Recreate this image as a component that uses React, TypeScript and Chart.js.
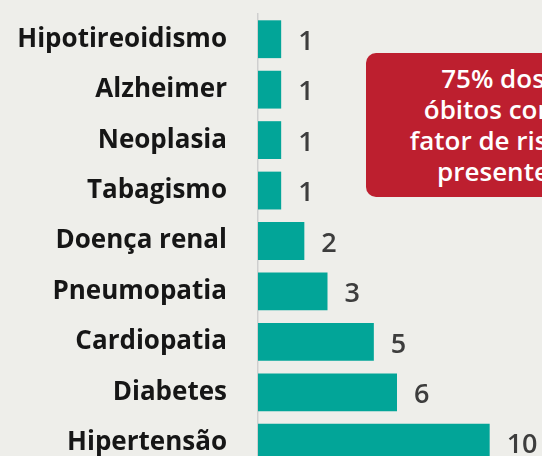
import React, { useEffect, useRef } from "react";
import { Chart, registerables } from "chart.js";

Chart.register(...registerables);

const categories = [
  "Hipotireoidismo",
  "Alzheimer",
  "Neoplasia",
  "Tabagismo",
  "Doença renal",
  "Pneumopatia",
  "Cardiopatia",
  "Diabetes",
  "Hipertensão",
];
const values = [1, 1, 1, 1, 2, 3, 5, 6, 10];
const calloutLines = ["75% dos", "óbitos com", "fator de risco", "presente"];

const FONT = "'Open Sans', 'Noto Sans', sans-serif";

const valueLabelPlugin = {
  id: "valueLabels",
  afterDatasetsDraw(chart: any) {
    const ctx = chart.ctx;
    const meta = chart.getDatasetMeta(0);
    ctx.save();
    ctx.font = `600 27px ${FONT}`;
    ctx.fillStyle = "#3d3d3d";
    ctx.textAlign = "left";
    ctx.textBaseline = "middle";
    meta.data.forEach((bar: any, i: number) => {
      ctx.fillText(String(values[i]), bar.x + 17, bar.y + 3);
    });
    ctx.restore();
  },
};

export default function App() {
  const canvasRef = useRef<HTMLCanvasElement>(null);

  useEffect(() => {
    const canvas = canvasRef.current;
    if (!canvas) return;
    const chart = new Chart(canvas, {
      type: "bar",
      data: {
        labels: categories,
        datasets: [
          {
            data: values,
            backgroundColor: "#02a598",
            borderWidth: 0,
            barPercentage: 0.75,
            categoryPercentage: 1,
          },
        ],
      },
      options: {
        indexAxis: "y",
        responsive: false,
        animation: false,
        devicePixelRatio: 1,
        layout: { padding: { top: 14, bottom: 2, right: 6, left: 0 } },
        plugins: {
          legend: { display: false },
          tooltip: { enabled: false },
        },
        scales: {
          x: {
            display: false,
            min: 0,
            max: 12,
          },
          y: {
            afterFit: (scale: any) => {
              scale.width = 258;
              scale.paddingTop = 0;
              scale.paddingBottom = 0;
            },
            grid: { display: false, drawTicks: false },
            border: { display: true, color: "#cfcfcf", width: 1.5 },
            ticks: {
              padding: 31,
              color: "#161616",
              font: { family: FONT, size: 26, weight: "bold" },
            },
          },
        },
      },
      plugins: [valueLabelPlugin],
    });
    return () => chart.destroy();
  }, []);

  return (
    <div
      style={{
        position: "fixed",
        left: 0,
        top: 0,
        width: 542,
        height: 456,
        overflow: "hidden",
        background: "#eeeeea",
      }}
    >
      <canvas
        ref={canvasRef}
        width={542}
        height={470}
        style={{ position: "absolute", left: 0, top: 0, width: 542, height: 470 }}
      />
      <div
        style={{
          position: "absolute",
          left: 366,
          top: 53,
          width: 254,
          height: 144,
          background: "#bd1f2f",
          borderRadius: 10,
          color: "#ffffff",
          fontFamily: FONT,
          fontWeight: 600,
          fontSize: 26,
          lineHeight: "31px",
          textAlign: "center",
          display: "flex",
          flexDirection: "column",
          justifyContent: "center",
          whiteSpace: "nowrap",
        }}
      >
        {calloutLines.map((l, i) => (
          <div key={i}>{l}</div>
        ))}
      </div>
    </div>
  );
}
